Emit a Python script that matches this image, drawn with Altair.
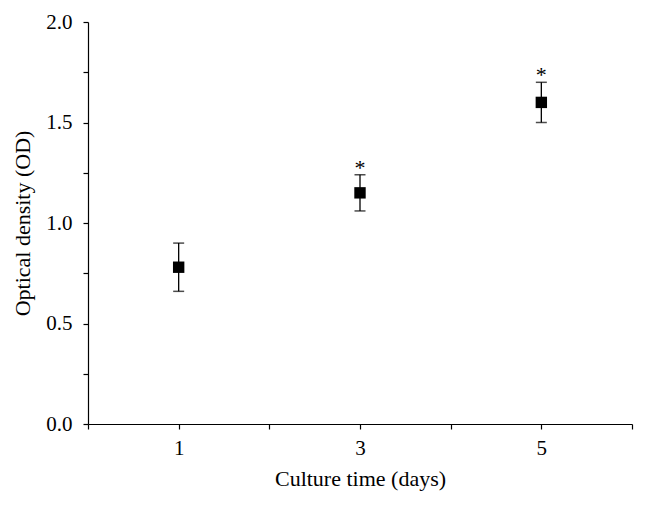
import altair as alt
import pandas as pd

days = [1, 3, 5]
od = [0.78, 1.15, 1.60]
od_low = [0.66, 1.06, 1.50]
od_high = [0.90, 1.24, 1.70]
sig = ["", "*", "*"]

df = pd.DataFrame({"day": days, "od": od, "low": od_low, "high": od_high, "sig": sig})

FONT = "Liberation Serif"

x_enc = alt.X("day:Q", scale=alt.Scale(domain=[0, 6], nice=False),
              axis=alt.Axis(title="Culture time (days)", values=[0, 1, 2, 3, 4, 5, 6],
                            format="d",
                            labelExpr="datum.value % 2 == 1 ? datum.label : ''",
                            labelPadding=8, titlePadding=10))
y_enc = alt.Y("od:Q", scale=alt.Scale(domain=[0, 2], nice=False),
              axis=alt.Axis(title="Optical density (OD)",
                            values=[0, 0.25, 0.5, 0.75, 1.0, 1.25, 1.5, 1.75, 2.0],
                            labelExpr="(datum.value * 2) % 1 == 0 ? format(datum.value, '.1f') : ''",
                            labelPadding=11, titlePadding=11))

base = alt.Chart(df)

points = base.mark_square(color="black", size=130, opacity=1).encode(x=x_enc, y=y_enc)
rules = base.mark_rule(color="black", strokeWidth=1.3).encode(
    x="day:Q", y=alt.Y("low:Q"), y2="high:Q")
caps_hi = base.mark_tick(color="black", orient="horizontal", size=11, thickness=1.5).encode(
    x="day:Q", y="high:Q")
caps_lo = base.mark_tick(color="black", orient="horizontal", size=11, thickness=1.5).encode(
    x="day:Q", y="low:Q")
stars = base.mark_text(font=FONT, fontSize=22, color="black", baseline="alphabetic", dy=0).encode(
    x="day:Q", y="high:Q", text="sig:N")

chart = alt.layer(points, rules, caps_hi, caps_lo, stars).properties(
    width=544, height=402, padding={"left": 80, "top": 14, "right": 6, "bottom": 75},
    autosize=alt.AutoSizeParams(type="none"), background="white"
).configure_view(stroke=None).configure_axis(
    grid=False, tickSize=5, domainColor="black", tickColor="black",
    labelFont=FONT, titleFont=FONT, labelFontSize=21, titleFontSize=22,
    titleFontWeight="normal", labelColor="black", titleColor="black",
    domainWidth=1.2, tickWidth=1.2
)

chart.save("out.html", embed_options={"renderer": "svg", "actions": False})
